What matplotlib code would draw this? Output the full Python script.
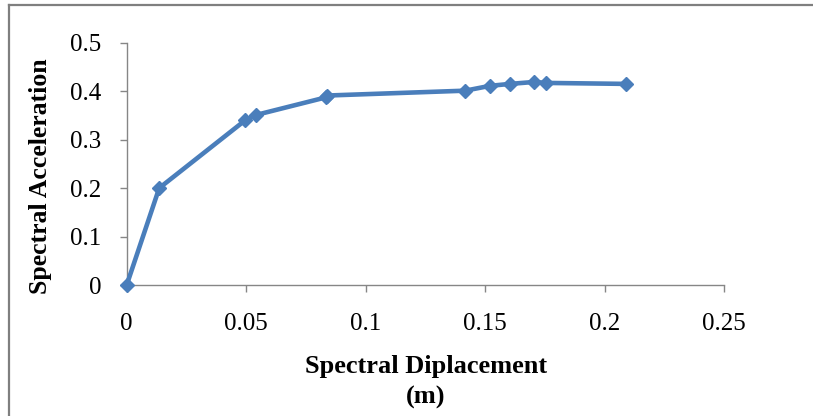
import matplotlib
matplotlib.use("Agg")
import matplotlib.pyplot as plt
from matplotlib.lines import Line2D

# Capacity curve: spectral displacement (m) vs spectral acceleration
sd = [0.0, 0.0136, 0.0496, 0.0542, 0.0832, 0.0840, 0.1416, 0.1520,
      0.1604, 0.1705, 0.1753, 0.2089]
sa = [0.0, 0.200, 0.340, 0.351, 0.387, 0.391, 0.401, 0.411,
      0.415, 0.419, 0.417, 0.415]

x_ticks = [0.0, 0.05, 0.10, 0.15, 0.20, 0.25]
x_tick_labels = ["0", "0.05", "0.1", "0.15", "0.2", "0.25"]
y_ticks = [0.0, 0.1, 0.2, 0.3, 0.4, 0.5]
y_tick_labels = ["0", "0.1", "0.2", "0.3", "0.4", "0.5"]

W, H = 813, 416
fig = plt.figure(figsize=(W / 100, H / 100), dpi=100)
fig.patch.set_facecolor("white")

serif = ["Liberation Serif", "DejaVu Serif"]
blue = "#4A7EBB"
gray = "#868686"

# plot area
left, right = 126.7, 724.3
top, bottom = 42.7, 285.0
ax = fig.add_axes([left / W, 1 - bottom / H, (right - left) / W, (bottom - top) / H])
ax.plot(sd, sa, color=blue, lw=3.3, marker="D", markersize=7.5,
        markerfacecolor=blue, markeredgecolor=blue, solid_joinstyle="round",
        clip_on=False, zorder=3)

ax.set_xlim(0, 0.25)
ax.set_ylim(0, 0.5)
ax.set_xticks(x_ticks)
ax.set_xticklabels(x_tick_labels)
ax.set_yticks(y_ticks)
ax.set_yticklabels(y_tick_labels)

for s in ("top", "right"):
    ax.spines[s].set_visible(False)
for s in ("left", "bottom"):
    ax.spines[s].set_color(gray)
    ax.spines[s].set_linewidth(1.0)

ax.tick_params(axis="both", direction="out", length=5, width=1.0, color=gray,
               labelsize=18, labelcolor="black")
ax.tick_params(axis="x", pad=15)
ax.tick_params(axis="y", pad=13)
for lab in ax.get_xticklabels() + ax.get_yticklabels():
    lab.set_family(serif)

# axis titles
fig.text(426 / W, 1 - 367 / H, "Spectral Diplacement", ha="center", va="center",
         fontsize=19, fontweight="bold", family=serif)
fig.text(426 / W, 1 - 397 / H, "(m)", ha="center", va="center",
         fontsize=19, fontweight="bold", family=serif)
fig.text(41 / W, 1 - 176 / H, "Spectral Acceleration", ha="center", va="center",
         rotation=90, fontsize=18.5, fontweight="bold", family=serif)

# chart frame
fig.add_artist(Line2D([9 / W, 1.0], [1 - 5 / H, 1 - 5 / H], transform=fig.transFigure,
                      color="#7F7F7F", lw=1.6))
fig.add_artist(Line2D([9 / W, 9 / W], [0.0, 1 - 5 / H], transform=fig.transFigure,
                      color="#7F7F7F", lw=1.6))

fig.savefig("out.png", dpi=100, facecolor="white")
